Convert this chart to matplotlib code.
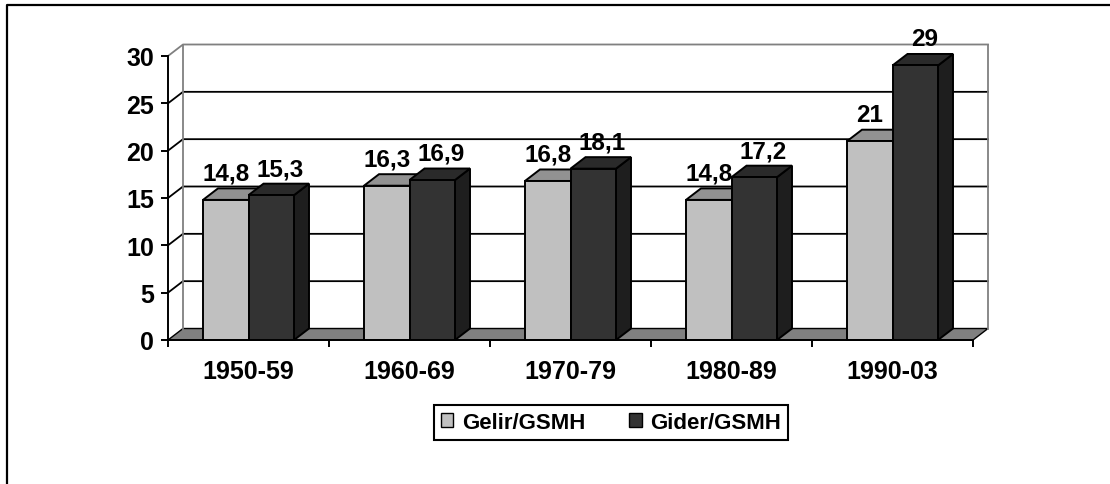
import matplotlib.pyplot as plt
from matplotlib.patches import Polygon, Rectangle, Patch
from matplotlib.lines import Line2D

plt.rcParams['font.family'] = ['Liberation Sans', 'DejaVu Sans']
plt.rcParams['font.weight'] = 'bold'

categories = ['1950-59', '1960-69', '1970-79', '1980-89', '1990-03']
gelir = [14.8, 16.3, 16.8, 14.8, 21]
gider = [15.3, 16.9, 18.1, 17.2, 29]
gelir_labels = ['14,8', '16,3', '16,8', '14,8', '21']
gider_labels = ['15,3', '16,9', '18,1', '17,2', '29']
yticks = [0, 5, 10, 15, 20, 25, 30]

fig = plt.figure(figsize=(11.1, 4.85), dpi=100)
W, H = 1110, 485
# front plane of the 3d box in pixels
x0p, x1p, y0p, y1p = 168, 973, 341, 57
ax = fig.add_axes([x0p / W, 1 - y0p / H, (x1p - x0p) / W, (y0p - y1p) / H])
ax.set_xlim(0, 5)
ax.set_ylim(0, 30)
ax.patch.set_visible(False)

# depth offset (pixels -> data units)
dx = 15 / ((x1p - x0p) / 5)
dy = 11.5 / ((y0p - y1p) / 30)
n = len(categories)
gray = '#808080'

# floor
ax.add_patch(Polygon([(0, 0), (n, 0), (n + dx, dy), (dx, dy)], closed=True,
                     facecolor=gray, edgecolor='black', lw=1, clip_on=False, zorder=1))
# left wall and back wall
ax.add_patch(Polygon([(0, 0), (dx, dy), (dx, 30 + dy), (0, 30)], closed=True,
                     facecolor='white', edgecolor='none', clip_on=False, zorder=0.5))
ax.add_patch(Rectangle((dx, dy), n, 30, facecolor='white', edgecolor='none',
                       clip_on=False, zorder=0.5))
for v in yticks[1:]:
    c = gray if v == 30 else 'black'
    ax.plot([0, dx, n + dx], [v, v + dy, v + dy], color=c, lw=1.3,
            clip_on=False, zorder=1)
ax.plot([dx, dx], [dy, 30 + dy], color=gray, lw=1.3, clip_on=False, zorder=1)
ax.plot([n + dx, n + dx], [dy, 30 + dy], color=gray, lw=1.3, clip_on=False, zorder=1)

# bars
w = 45.5 / ((x1p - x0p) / 5)
series = [(gelir, gelir_labels, '#c0c0c0', '#929292', '#a0a0a0', -1, 0.0),
          (gider, gider_labels, '#333333', '#2a2a2a', '#1e1e1e', 0, 0.6)]
z = 2
for i in range(n):
    for vals, labs, front, top, side, off, lshift in series:
        v = vals[i]
        xa = i + 0.5 + off * w
        xb = xa + w
        ax.add_patch(Polygon([(xb, 0), (xb + dx, dy), (xb + dx, v + dy), (xb, v)],
                             closed=True, facecolor=side, edgecolor='black', lw=1.4,
                             clip_on=False, zorder=z))
        ax.add_patch(Polygon([(xa, v), (xb, v), (xb + dx, v + dy), (xa + dx, v + dy)],
                             closed=True, facecolor=top, edgecolor='black', lw=1.4,
                             clip_on=False, zorder=z))
        ax.add_patch(Rectangle((xa, 0), w, v, facecolor=front, edgecolor='black',
                               lw=1.4, clip_on=False, zorder=z))
        ax.text(xa + w / 2 + dx * lshift, v + dy + 0.9, labs[i], ha='center',
                va='baseline', fontsize=17.5, fontweight='bold', zorder=5, clip_on=False)
        z += 1

# axes
for s in ['top', 'right']:
    ax.spines[s].set_visible(False)
for s in ['left', 'bottom']:
    ax.spines[s].set_linewidth(1.4)
    ax.spines[s].set_zorder(20)
ax.set_yticks(yticks)
ax.set_yticklabels([str(v) for v in yticks], fontsize=18, fontweight='bold')
ax.tick_params(axis='y', length=5, width=1.4, pad=5)
ax.set_xticks(range(n + 1))
ax.set_xticklabels([])
ax.set_xticks([i + 0.5 for i in range(n)], minor=True)
ax.set_xticklabels(categories, minor=True, fontsize=18, fontweight='bold')
ax.tick_params(axis='x', which='major', length=5, width=1.4)
ax.tick_params(axis='x', which='minor', length=0, pad=14)

# legend
handles = [Patch(facecolor='#c0c0c0', edgecolor='black', lw=1, label='Gelir/GSMH'),
           Patch(facecolor='#333333', edgecolor='black', lw=1, label='Gider/GSMH')]
leg = fig.legend(handles=handles, loc='center', bbox_to_anchor=(611 / W, 1 - 423.5 / H),
                 ncol=2, fancybox=False, framealpha=1, edgecolor='black',
                 prop={'size': 16, 'weight': 'bold'}, handlelength=0.55,
                 handleheight=0.55, handletextpad=0.4, columnspacing=2.0,
                 borderpad=0.3)
leg.get_frame().set_linewidth(1.5)

# chart border (left and top)
fig.add_artist(Line2D([7 / W, 7 / W, 1], [0, 1 - 6 / H, 1 - 6 / H],
                      color='black', lw=1.6, transform=fig.transFigure))

fig.savefig('out.png', dpi=100)
